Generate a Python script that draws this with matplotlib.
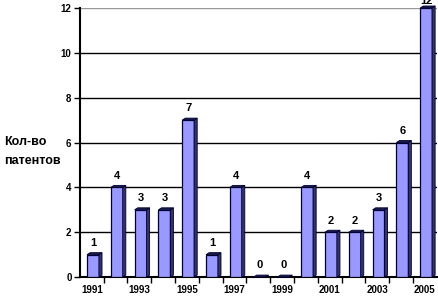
import matplotlib.pyplot as plt
from matplotlib.patches import Polygon

plt.rcParams['font.family'] = ['Liberation Sans', 'DejaVu Sans']

years = list(range(1991, 2006))
patents = [1, 4, 3, 3, 7, 1, 4, 0, 0, 4, 2, 2, 3, 6, 12]
tick_years = [1991, 1993, 1995, 1997, 1999, 2001, 2003, 2005]

fig = plt.figure(figsize=(4.39, 2.97), dpi=100)
ax = fig.add_axes([0.182, 0.067, 0.813, 0.906])

pos = list(range(len(years)))
w = 0.5
dx, dy = 0.13, 0.09
face = '#9999FF'
dark = '#1a1a4d'

ax.bar([p + 0.05 for p in pos], patents, width=w, color=face,
       edgecolor='#000033', linewidth=0.9, zorder=3)

# fake 3d: side and top faces
for p, v in zip(pos, patents):
    x1 = p + 0.05 + w / 2
    x0 = p + 0.05 - w / 2
    side = Polygon([(x1, 0), (x1 + dx, dy), (x1 + dx, v + dy), (x1, v)],
                   closed=True, facecolor='#333366', edgecolor='#000033',
                   linewidth=0.6, zorder=3, clip_on=False)
    top = Polygon([(x0, v), (x0 + dx, v + dy), (x1 + dx, v + dy), (x1, v)],
                  closed=True, facecolor=dark, edgecolor='#000033',
                  linewidth=0.6, zorder=3, clip_on=False)
    ax.add_patch(side)
    ax.add_patch(top)
    ax.text(p + 0.05, min(v + 0.3, 12.1), str(v), ha='center', va='bottom',
            fontsize=8, fontweight='bold', zorder=4)

ax.set_xlim(-0.5, len(years) - 0.5)
ax.set_ylim(0, 12)
ax.set_yticks(range(0, 13, 2))
ax.set_yticklabels([str(t) for t in range(0, 13, 2)], fontsize=7,
                   fontweight='bold')

ax.set_xticks([years.index(y) for y in tick_years])
ax.set_xticklabels([str(y) for y in tick_years], fontsize=7,
                   fontweight='bold')
ax.tick_params(axis='x', length=0, pad=6)
ax.set_xticks([p + 0.5 for p in pos[:-1]], minor=True)
ax.tick_params(axis='x', which='minor', length=4, width=1, direction='out')
ax.tick_params(axis='y', length=4, width=1, direction='out', pad=2)

ax.yaxis.grid(True, color='black', linewidth=1, zorder=0)
ax.set_axisbelow(True)
ax.spines['top'].set_visible(False)
ax.spines['right'].set_visible(False)
ax.spines['left'].set_linewidth(1.5)
ax.spines['bottom'].set_linewidth(1.5)
gl = ax.get_ygridlines()
gl[-1].set_color('#999999')

fig.text(0.01, 0.49, 'Кол-во\nпатентов', fontsize=9, fontweight='bold',
         ha='left', va='center', linespacing=1.7)

fig.savefig('out.png', dpi=100)
